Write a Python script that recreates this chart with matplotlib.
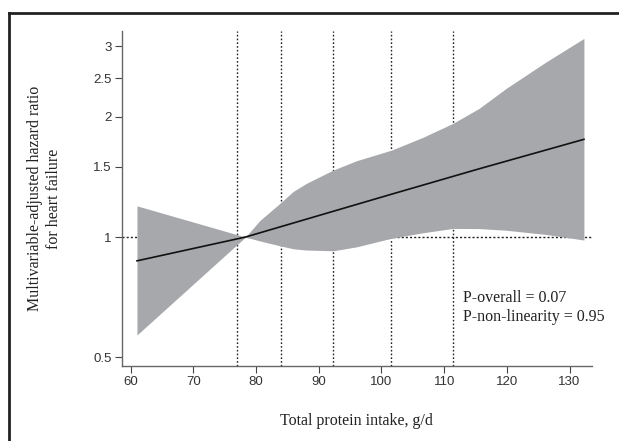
import numpy as np
import matplotlib
matplotlib.use("Agg")
import matplotlib.pyplot as plt
from matplotlib.lines import Line2D

# Datos
protein = [61, 78.3, 80.6, 83.8, 85.9, 88.0, 92.3, 96.0, 101.6, 106.6, 111.4, 115.6, 119.9, 126.3, 132.3]
hr_upper = [1.197, 1.0, 1.100, 1.214, 1.300, 1.362, 1.471, 1.552, 1.65, 1.776, 1.925, 2.10, 2.355, 2.745, 3.14]
hr_lower = [0.569, 1.0, 0.978, 0.951, 0.935, 0.928, 0.924, 0.945, 0.993, 1.025, 1.051, 1.05, 1.04, 1.015, 0.983]

line_x = [61, 78.3, 101.6, 115.6, 132.3]
line_hr = [0.872, 1.0, 1.28, 1.482, 1.756]

knots = [76.9, 83.95, 92.2, 101.5, 111.4]
y_ticks = [0.5, 1, 1.5, 2, 2.5, 3]
y_tick_labels = ['0.5', '1', '1.5', '2', '2.5', '3']
x_ticks = [60, 70, 80, 90, 100, 110, 120, 130]

serif = 'Liberation Serif'
sans = 'Liberation Sans'

fig = plt.figure(figsize=(6.19, 4.41), dpi=100)
ax = fig.add_axes([0.197, 0.170, 0.759, 0.760])

# Lineas de referencia (debajo de la banda)
ax.axhline(1, color='#222222', lw=1.0, ls=(0, (1.5, 1.5)), zorder=1)
for k in knots:
    ax.axvline(k, color='#222222', lw=1.0, ls=(0, (1.2, 1.5)), zorder=1)

# Banda de confianza y curva
ax.fill_between(protein, hr_lower, hr_upper, color='#a7a8ab', lw=0, zorder=2)
ax.plot(line_x, line_hr, color='#111111', lw=1.2, zorder=3)

ax.set_yscale('log')
ax.set_xlim(58.6, 133.55)
ax.set_ylim(0.4757, 3.28)
ax.set_yticks(y_ticks)
ax.set_yticklabels(y_tick_labels)
ax.yaxis.set_minor_locator(matplotlib.ticker.NullLocator())
ax.set_xticks(x_ticks)

for s in ['top', 'right']:
    ax.spines[s].set_visible(False)
for s in ['left', 'bottom']:
    ax.spines[s].set_color('#666666')
    ax.spines[s].set_linewidth(1.0)
ax.tick_params(direction='out', length=5, width=0.8, color='#444444',
               labelsize=9.5, labelcolor='#333333', pad=2.5)
for lab in ax.get_xticklabels() + ax.get_yticklabels():
    lab.set_fontfamily(sans)

ax.set_xlabel('Total protein intake, g/d', fontfamily=serif, fontsize=11.5,
              color='#222222', labelpad=18)
ax.set_ylabel('Multivariable-adjusted hazard ratio\nfor heart failure',
              fontfamily=serif, fontsize=11.5, color='#222222', labelpad=22,
              linespacing=1.25)

ax.text(0.7255, 0.175, 'P-overall = 0.07\nP-non-linearity = 0.95',
        transform=ax.transAxes, fontfamily=serif, fontsize=11.5,
        color='#222222', va='center', ha='left', linespacing=1.2)

# Marco exterior (recortado)
fig.add_artist(Line2D([9 / 619, 1.0], [1 - 13 / 441] * 2, color='#222222', lw=2,
                      transform=fig.transFigure))
fig.add_artist(Line2D([9 / 619] * 2, [0, 1 - 13 / 441], color='#222222', lw=2,
                      transform=fig.transFigure))

fig.savefig('out.png', dpi=100)
